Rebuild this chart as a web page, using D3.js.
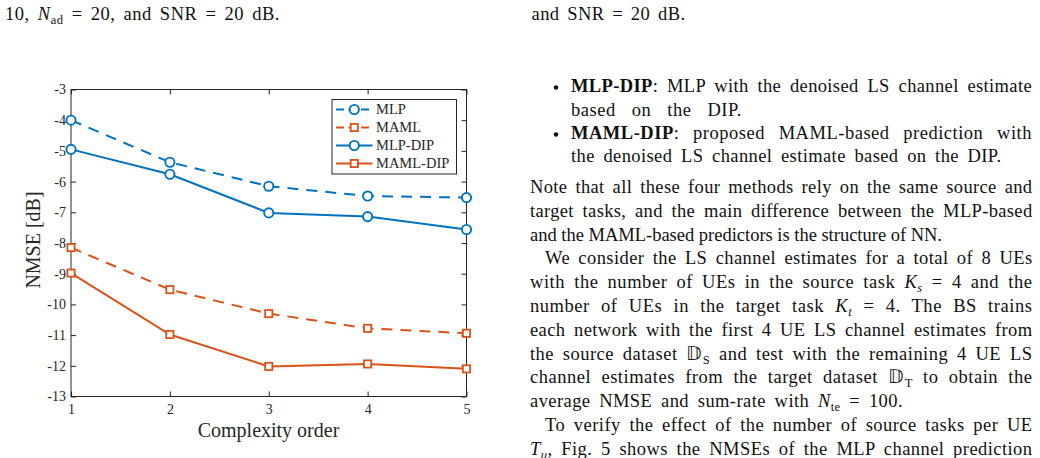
<!DOCTYPE html>
<html><head><meta charset="utf-8">
<script src="https://cdn.jsdelivr.net/npm/d3@7"></script>
<style>body{margin:0;background:#fff;overflow:hidden;} svg{display:block;}</style>
</head><body>
<svg id="c" width="1040" height="458"></svg>
<script>
// ---- data ----
const complexityOrder = [1, 2, 3, 4, 5];
const mlp     = [-4.00, -5.37, -6.15, -6.47, -6.52];
const maml    = [-8.15, -9.52, -10.30, -10.78, -10.94];
const mlpDip  = [-4.95, -5.76, -7.02, -7.14, -7.56];
const mamlDip = [-8.98, -10.98, -12.02, -11.94, -12.10];
const seriesNames = ["MLP", "MAML", "MLP-DIP", "MAML-DIP"];
const xTicks = [1, 2, 3, 4, 5];
const yTicks = [-3, -4, -5, -6, -7, -8, -9, -10, -11, -12, -13];

const BLUE = "#0072BD", ORANGE = "#D95319", AX = "#262626";
const series = [
  {name: seriesNames[0], values: mlp,     color: BLUE,   dashed: true,  marker: "circle"},
  {name: seriesNames[1], values: maml,    color: ORANGE, dashed: true,  marker: "square"},
  {name: seriesNames[2], values: mlpDip,  color: BLUE,   dashed: false, marker: "circle"},
  {name: seriesNames[3], values: mamlDip, color: ORANGE, dashed: false, marker: "square"}
];

const svg = d3.select("#c");
const serif = "'Liberation Serif', 'Times New Roman', serif";

// ---- chart ----
const x = d3.scaleLinear().domain([1, 5]).range([71, 466.5]);
const y = d3.scaleLinear().domain([-13, -3]).range([396.5, 89.5]);
const g = svg.append("g");

g.append("rect").attr("x", x(1)).attr("y", y(-3))
  .attr("width", x(5) - x(1)).attr("height", y(-13) - y(-3))
  .attr("fill", "none").attr("stroke", AX).attr("stroke-width", 1);

const tl = 5;
const yAxisL = d3.axisLeft(y).tickValues(yTicks).tickSize(-tl).tickPadding(5).tickFormat(d => String(d).replace("−", "-"));
const yAxisR = d3.axisRight(y).tickValues(yTicks).tickSize(-tl).tickFormat("");
const xAxisB = d3.axisBottom(x).tickValues(xTicks).tickSize(-tl).tickPadding(8).tickFormat(d3.format("d"));
const xAxisT = d3.axisTop(x).tickValues(xTicks).tickSize(-tl).tickFormat("");
function styleAxis(sel) {
  sel.select(".domain").remove();
  sel.selectAll(".tick line").attr("stroke", AX).attr("stroke-width", 1);
  sel.selectAll(".tick text").attr("fill", AX).style("font-family", serif).style("font-size", "14px");
}
g.append("g").attr("transform", `translate(${x(1)},0)`).call(yAxisL).call(styleAxis);
g.append("g").attr("transform", `translate(${x(5)},0)`).call(yAxisR).call(styleAxis);
g.append("g").attr("transform", `translate(0,${y(-13)})`).call(xAxisB).call(styleAxis);
g.append("g").attr("transform", `translate(0,${y(-3)})`).call(xAxisT).call(styleAxis);

g.append("text").attr("x", 268.5).attr("y", 437).attr("text-anchor", "middle")
  .style("font-family", serif).style("font-size", "20px").attr("fill", AX).text("Complexity order");
g.append("text").attr("transform", "translate(40,240) rotate(-90)").attr("text-anchor", "middle")
  .style("font-family", serif).style("font-size", "20px").attr("fill", AX).text("NMSE [dB]");

function drawMarker(sel, cx, cy, s) {
  if (s.marker === "circle") {
    sel.append("circle").attr("cx", cx).attr("cy", cy).attr("r", 4.6)
      .attr("fill", "#fff").attr("stroke", s.color).attr("stroke-width", 1.9);
  } else {
    sel.append("rect").attr("x", cx - 3.6).attr("y", cy - 3.6).attr("width", 7.2).attr("height", 7.2)
      .attr("fill", "#fff").attr("stroke", s.color).attr("stroke-width", 1.8);
  }
}
const line = d3.line().x((d, i) => x(complexityOrder[i])).y(d => y(d));
series.forEach(s => {
  g.append("path").attr("d", line(s.values)).attr("fill", "none")
    .attr("stroke", s.color).attr("stroke-width", 2)
    .attr("stroke-dasharray", s.dashed ? "11,8" : null);
});
series.forEach(s => {
  const mg = g.append("g");
  s.values.forEach((v, i) => drawMarker(mg, x(complexityOrder[i]), y(v), s));
});

const lg = g.append("g");
lg.append("rect").attr("x", 332).attr("y", 99.5).attr("width", 124.5).attr("height", 74.5)
  .attr("fill", "#fff").attr("stroke", AX).attr("stroke-width", 1);
series.forEach((s, i) => {
  const cy = 109.5 + 18 * i;
  lg.append("line").attr("x1", 336).attr("x2", 372.5).attr("y1", cy).attr("y2", cy)
    .attr("stroke", s.color).attr("stroke-width", 2)
    .attr("stroke-dasharray", s.dashed ? "8,4.5" : null);
  drawMarker(lg, 354.3, cy, s);
  lg.append("text").attr("x", 376).attr("y", cy + 4.8)
    .style("font-family", serif).style("font-size", "14.5px").attr("fill", AX).text(s.name);
});

// ---- page text ----
const FS = 18.5;
const lines = [
  {x: 5, y: 20, w: 280, segs: [["10, "], ["N", "i"], ["ad", "sub"], [" = 20, and SNR = 20 dB."]]},
  {x: 531.5, y: 20, w: 685.5, segs: [["and SNR = 20 dB."]]},
  {x: 571, y: 92, w: 1032, bullet: true, segs: [["MLP-DIP", "b"], [": MLP with the denoised LS channel estimate"]]},
  {x: 571, y: 115.5, w: 742, segs: [["based on the DIP."]]},
  {x: 571, y: 139, w: 1032, bullet: true, segs: [["MAML-DIP", "b"], [": proposed MAML-based prediction with"]]},
  {x: 571, y: 162, w: 1001.5, segs: [["the denoised LS channel estimate based on the DIP."]]},
  {x: 530, y: 193.3, w: 1032.5, segs: [["Note that all these four methods rely on the same source and"]]},
  {x: 530, y: 217, w: 1032.5, segs: [["target tasks, and the main difference between the MLP-based"]]},
  {x: 530, y: 240.6, w: 942, segs: [["and the MAML-based predictors is the structure of NN."]]},
  {x: 545, y: 264.4, w: 1032.5, segs: [["We consider the LS channel estimates for a total of 8 UEs"]]},
  {x: 530, y: 288.2, w: 1032.5, segs: [["with the number of UEs in the source task "], ["K", "i"], ["s", "subi"], [" = 4 and the"]]},
  {x: 530, y: 312, w: 1032.5, segs: [["number of UEs in the target task "], ["K", "i"], ["t", "subi"], [" = 4. The BS trains"]]},
  {x: 530, y: 335.8, w: 1032.5, segs: [["each network with the first 4 UE LS channel estimates from"]]},
  {x: 530, y: 359.6, w: 1032.5, segs: [["the source dataset "], ["\u{1D53B}"], ["S", "sub"], [" and test with the remaining 4 UE LS"]]},
  {x: 530, y: 383.4, w: 1032.5, segs: [["channel estimates from the target dataset "], ["\u{1D53B}"], ["T", "sub"], [" to obtain the"]]},
  {x: 530, y: 407.2, w: 903, segs: [["average NMSE and sum-rate with "], ["N", "i"], ["te", "sub"], [" = 100."]]},
  {x: 545, y: 431, w: 1032.5, segs: [["To verify the effect of the number of source tasks per UE"]]},
  {x: 530, y: 454.8, w: 1032.5, segs: [["T", "i"], ["u", "subi"], [", Fig. 5 shows the NMSEs of the MLP channel prediction"]]}
];
const tg = svg.append("g").style("font-family", serif).style("font-size", FS + "px").attr("fill", "#111");
lines.forEach(L => {
  if (L.bullet) {
    tg.append("circle").attr("cx", L.x - 15).attr("cy", L.y - 4.5).attr("r", 2.2).attr("fill", "#111");
  }
  const t = tg.append("text").attr("x", L.x).attr("y", L.y);
  let prevSub = false;
  L.segs.forEach(([txt, st]) => {
    const sp = t.append("tspan").text(txt);
    const isSub = st === "sub" || st === "subi";
    if (isSub) { sp.attr("dy", 4).style("font-size", "12.5px"); }
    else if (prevSub) { sp.attr("dy", -4); }
    if (st === "b") sp.style("font-weight", "bold");
    if (st === "i" || st === "subi") sp.style("font-style", "italic");
    prevSub = isSub;
  });
  if (L.w) {
    const full = L.segs.map(s => s[0]).join("");
    const nChars = Array.from(full).length;
    const n = (full.match(/ /g) || []).length;
    let natural = t.node().getComputedTextLength();
    const extra = L.w - L.x - natural;
    if (extra > 0) {
      const ls = Math.min(0.55, extra * 0.4 / nChars);
      t.style("letter-spacing", ls + "px");
      natural = t.node().getComputedTextLength();
    }
    if (n > 0) t.style("word-spacing", ((L.w - L.x - natural) / n) + "px");
  }
});
</script>
</body></html>
